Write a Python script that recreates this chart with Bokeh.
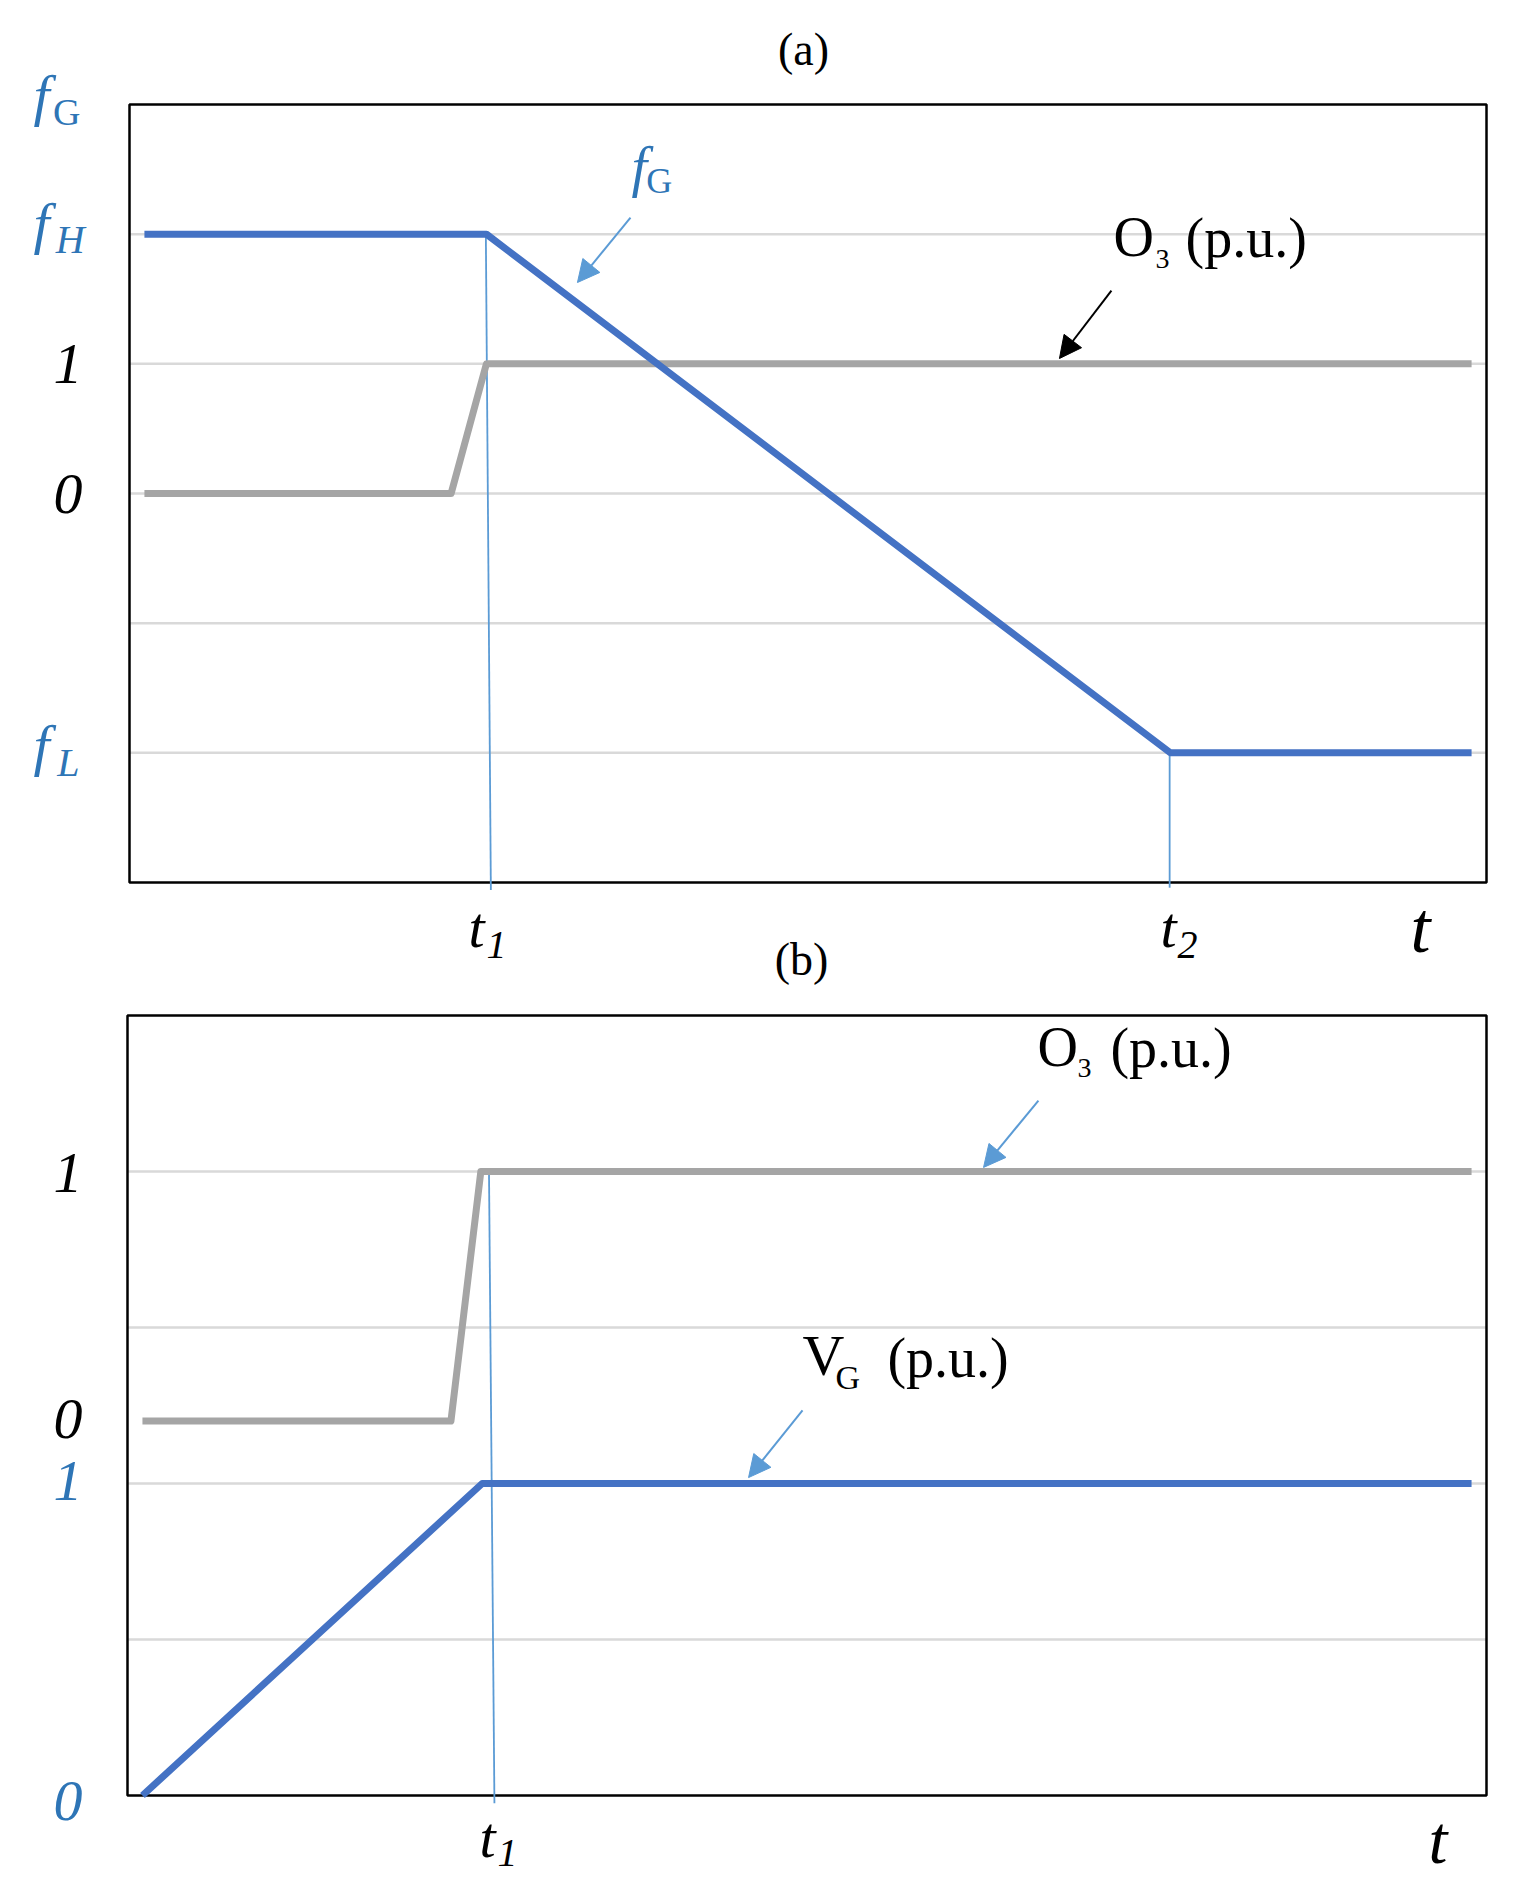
from bokeh.plotting import figure
from bokeh.models import Range1d, Label, Arrow, NormalHead
from bokeh.embed import file_html
from bokeh.resources import INLINE

# ---------------- data (schematic levels) ----------------
# panel (a): y levels -> 6:f_G, 5:f_H, 4:"1", 3:"0", 1:f_L
t_a_fG = [0.11, 2.63, 7.67, 9.89]
fG_a = [5, 5, 1, 1]
t_a_O3 = [0.11, 2.37, 2.63, 9.89]
O3_a = [3, 3, 4, 4]
t1_a = [2.626, 2.663]
t2_a = [7.665, 7.665]
grid_a = [1, 2, 3, 4, 5]

# panel (b): y levels -> 4:"1"(O3), 2.4:"0"(O3), 2:"1"(VG), 0:"0"(VG)
t_b_O3 = [0.11, 2.38, 2.60, 9.89]
O3_b = [2.4, 2.4, 4, 4]
t_b_VG = [0.11, 2.61, 9.89]
VG_b = [0, 2, 2]
t1_b = [2.66, 2.70]
grid_b = [1, 2, 3, 4]

BLUE = "#4472C4"
GRAY = "#A5A5A5"
LBLUE = "#5B9BD5"
TBLUE = "#2E75B6"
GRIDC = "#D9D9D9"
FONT = "Liberation Serif"

p = figure(width=1501, height=1885, output_backend="svg", toolbar_location=None,
           x_range=Range1d(-0.9506, 10.1105), y_range=Range1d(-7.7350, 6.8019))
p.extra_x_ranges = {"b": Range1d(-0.9345, 10.1104)}
p.extra_y_ranges = {"b": Range1d(-0.5769, 11.5064)}
p.min_border = 0
p.axis.visible = False
p.grid.visible = False
p.outline_line_color = None
p.background_fill_color = "white"
p.border_fill_color = "white"

# pixels per y unit of each panel (used to place text by its baseline)
PPU = {"default": 129.67, "b": 156.0}


def lab(text, x, y, size, color="black", style="normal", align="left", rn="default"):
    ym = y + 0.3375 * size / PPU[rn]
    p.add_layout(Label(x=x, y=ym, text=text, text_font=FONT, text_font_size=f"{size}px",
                       text_font_style=style, text_color=color, text_align=align,
                       text_baseline="middle", x_range_name=rn, y_range_name=rn))


def arr(xs, ys, xe, ye, color, rn="default"):
    end = NormalHead(size=22, fill_color=color, line_color=color, line_width=1)
    p.add_layout(Arrow(end=end, x_start=xs, y_start=ys, x_end=xe, y_end=ye,
                       line_color=color, line_width=2, x_range_name=rn, y_range_name=rn))


def panel_frame(grid, ytop, rn):
    n = len(grid)
    p.segment(x0=[0] * n, x1=[10] * n, y0=grid, y1=grid, line_color=GRIDC, line_width=2.5,
              x_range_name=rn, y_range_name=rn)
    p.quad(left=[0], right=[10], bottom=[0], top=[ytop], fill_color=None, line_color="black",
           line_width=2.5, x_range_name=rn, y_range_name=rn)


# ---------------- panel (a) ----------------
panel_frame(grid_a, 6, "default")
p.segment(x0=[t1_a[0], t2_a[0]], y0=[5, 1], x1=[t1_a[1], t2_a[1]], y1=[-0.057, -0.04],
          line_color=LBLUE, line_width=1.8)
p.line(t_a_O3, O3_a, line_color=GRAY, line_width=7, line_join="round")
p.line(t_a_fG, fG_a, line_color=BLUE, line_width=7, line_join="round")

arr(3.692, 5.128, 3.301, 4.627, LBLUE)
lab("f", 3.70, 5.375, 56, TBLUE, "italic")
lab("G", 4.00, 5.313, 36, TBLUE, "normal", "right")
arr(7.236, 4.565, 6.853, 4.041, "black")
lab("O", 7.251, 4.835, 56)
lab("3", 7.561, 4.735, 28)
lab("(p.u.)", 7.782, 4.828, 56)

lab("f", -0.707, 5.915, 58, TBLUE, "italic")
lab("G", -0.361, 5.846, 38, TBLUE, "normal", "right")
lab("f", -0.707, 4.928, 58, TBLUE, "italic")
lab("H", -0.330, 4.858, 40, TBLUE, "italic", "right")
lab("1", -0.346, 3.848, 58, "black", "italic", "right")
lab("0", -0.346, 2.846, 58, "black", "italic", "right")
lab("f", -0.707, 0.902, 58, TBLUE, "italic")
lab("L", -0.368, 0.825, 40, TBLUE, "italic", "right")

lab("t", 2.498, -0.501, 58, "black", "italic")
lab("1", 2.631, -0.586, 40, "black", "italic")
lab("t", 7.598, -0.501, 58, "black", "italic")
lab("2", 7.723, -0.586, 40, "black", "italic")
lab("t", 9.44, -0.540, 72, "black", "italic")

lab("(a)", 4.967, 6.308, 46, "black", "normal", "center")

# ---------------- panel (b) ----------------
panel_frame(grid_b, 5, "b")
p.segment(x0=[t1_b[0]], y0=[4], x1=[t1_b[1]], y1=[-0.05], line_color=LBLUE, line_width=1.8,
          x_range_name="b", y_range_name="b")
p.line(t_b_O3, O3_b, line_color=GRAY, line_width=7, line_join="round",
       x_range_name="b", y_range_name="b")
p.line(t_b_VG, VG_b, line_color=BLUE, line_width=7, line_join="round",
       x_range_name="b", y_range_name="b")

lab("(b)", 4.96, 5.258, 46, "black", "normal", "center", "b")

arr(6.703, 4.455, 6.299, 4.026, LBLUE, "b")
lab("O", 6.696, 4.679, 56, rn="b")
lab("3", 6.990, 4.603, 28, rn="b")
lab("(p.u.)", 7.233, 4.673, 56, rn="b")

arr(4.967, 2.468, 4.570, 2.038, LBLUE, "b")
lab("V", 4.967, 2.692, 58, rn="b")
lab("G", 5.210, 2.609, 34, rn="b")
lab("(p.u.)", 5.592, 2.686, 56, rn="b")

lab("1", -0.331, 3.865, 58, "black", "italic", "right", "b")
lab("0", -0.331, 2.288, 58, "black", "italic", "right", "b")
lab("1", -0.331, 1.891, 58, TBLUE, "italic", "right", "b")
lab("0", -0.331, -0.160, 58, TBLUE, "italic", "right", "b")

lab("t", 2.590, -0.397, 58, "black", "italic", rn="b")
lab("1", 2.723, -0.455, 40, "black", "italic", rn="b")
lab("t", 9.573, -0.435, 68, "black", "italic", rn="b")

open("out.html", "w").write(file_html(p, INLINE))
